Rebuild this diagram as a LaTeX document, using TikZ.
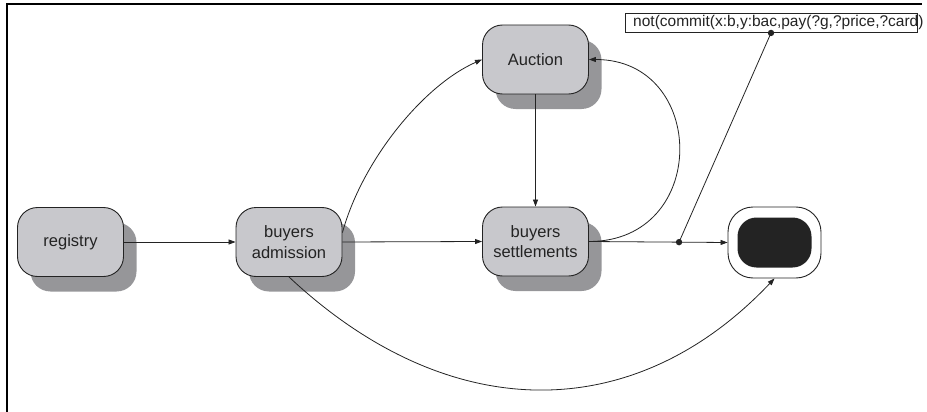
\documentclass[tikz,border=0pt]{standalone}
\usepackage{fontspec}
\setmainfont{Liberation Sans}
\usetikzlibrary{arrows.meta,shadows,calc}
\definecolor{boxfill}{RGB}{200,200,204}
\definecolor{shadowfill}{RGB}{150,150,153}
\definecolor{ink}{RGB}{35,35,35}
\begin{document}
\begin{tikzpicture}[x=1pt,y=-1pt,
  state/.style={draw=ink, line width=0.9pt, fill=boxfill, rounded corners=20pt,
    minimum width=106pt, minimum height=69pt, inner sep=0pt, align=center,
    text=ink, font=\fontsize{16.5}{20.5}\selectfont,
    drop shadow={shadow xshift=13pt, shadow yshift=-15pt, fill=shadowfill, opacity=1}},
  flow/.style={draw=ink, line width=0.8pt, -{Triangle[length=7pt,width=5pt]}},
  link/.style={draw=ink, line width=0.8pt},
  knot/.style={fill=ink}]

\useasboundingbox (0,0) rectangle (927,412);
% frame
\draw[line width=2.8pt, line cap=rect] (921,4) -- (7,4) -- (7,414);

% states
\node[state] (reg) at (70.5,242) {registry};
\node[state] (adm) at (289,242) {buyers\\admission};
\node[state] (auction) at (535.5,59.5) {Auction};
\node[state] (settle) at (535.5,241.5) {buyers\\settlements};

% final state
\node[draw=ink, line width=0.9pt, fill=white, rounded corners=25pt,
      minimum width=93pt, minimum height=71pt] (fin) at (774.5,242.5) {};
\node[fill=ink, rounded corners=19pt, minimum width=74pt, minimum height=50pt,
      inner sep=0pt] (finin) at (fin.center) {};

% constraint note
\node[draw=ink, line width=0.9pt, minimum width=292pt, minimum height=19pt,
      inner sep=0pt] (note) at (771,23) {};
\node[anchor=west, inner sep=0pt, text=ink, font=\fontsize{15.5}{18}\selectfont]
      (notetext) at (633,22.5) {not(commit(x:b,y:bac,pay(?g,?price,?card)};

% transitions
\draw[flow] (reg.east) -- (adm.west);
\draw[flow] (adm.east) -- (settle.west);
\draw[flow] (auction.south) -- (settle.north);
\draw[flow] (adm.10) .. controls +(20,-73) and +(-58,25.5) .. (auction.west);
\draw[flow] (settle.east) .. controls +(121,0) and +(119,0) .. (auction.east);
\draw[flow] (adm.south) .. controls +(160,150) and +(-140,148) .. (fin.south);
\draw[flow] (settle.east) -- (fin.west);

% note attachment
\coordinate (j) at ($(settle.east)!0.65!(fin.west)$);
\draw[link] (note.south) -- (j);
\fill[knot] (note.south) circle (3.2pt);
\fill[knot] (j) circle (3.2pt);
\end{tikzpicture}
\end{document}
